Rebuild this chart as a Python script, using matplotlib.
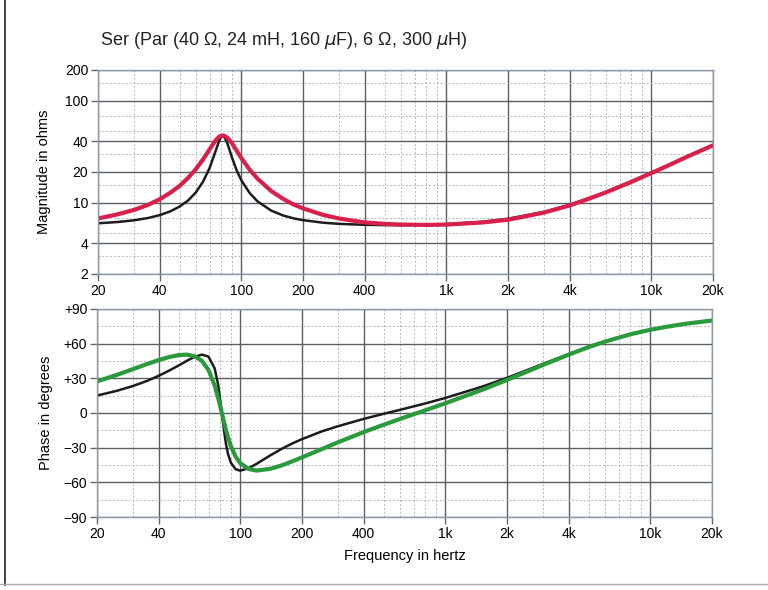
import matplotlib
matplotlib.use("Agg")
import matplotlib.pyplot as plt
from matplotlib.lines import Line2D
from matplotlib.ticker import NullFormatter

# values (frequency in Hz)
freq = [20, 25, 30, 35, 40, 45, 50, 55, 60, 65, 70, 75, 78, 80, 82, 85, 87, 90, 95,
        100, 110, 120, 140, 160, 180, 200, 250, 300, 400, 500, 600, 800, 1000, 1500,
        2000, 3000, 4000, 5000, 6000, 8000, 10000, 12000, 15000, 20000]

# magnitude in ohms
mag_red = [7.0, 7.7, 8.5, 9.5, 10.8, 12.5, 14.6, 17.5, 21.3, 26.5, 33.3, 41.0, 44.3, 45.4,
           45.5, 43.8, 41.8, 38.3, 32.3, 27.4, 21.0, 17.2, 13.0, 10.9, 9.6, 8.8, 7.6, 7.0,
           6.4, 6.2, 6.1, 6.05, 6.1, 6.4, 6.8, 8.0, 9.4, 11.0, 12.6, 16.0, 19.5, 23.0, 28.3, 36.5]
mag_black = [6.28, 6.47, 6.72, 7.07, 7.55, 8.22, 9.16, 10.5, 12.6, 16.0, 21.8, 32.2, 40.6, 44.8,
             45.2, 39.6, 34.4, 27.8, 20.7, 16.6, 12.4, 10.3, 8.36, 7.49, 7.02, 6.74, 6.37, 6.20,
             6.07, 6.03, 6.02, 6.07, 6.16, 6.50, 6.96, 8.13, 9.54, 11.1, 12.7, 16.2, 19.7, 23.0, 28.3, 36.5]

# phase in degrees
ph_green = [27.3, 33.0, 38.0, 42.3, 45.8, 48.4, 50.1, 50.5, 49.0, 45.1, 37.2, 23.8, 13.0, 5.1,
            -2.9, -14.1, -20.6, -28.7, -37.9, -43.4, -48.5, -49.8, -48.3, -45.2, -41.7, -38.4,
            -31.2, -25.3, -16.5, -10.2, -5.2, 2.4, 8.4, 19.8, 28.6, 41.6, 50.5, 57.0, 61.7,
            68.1, 72.0, 74.6, 77.3, 80.0]
ph_black = [15.1, 19.2, 23.4, 27.7, 32.2, 36.7, 41.1, 45.3, 48.7, 50.5, 48.8, 38.6, 24.1, 9.9,
            -6.0, -26.1, -35.0, -43.1, -48.7, -49.9, -47.7, -44.0, -36.7, -30.8, -26.2, -22.6,
            -15.9, -11.4, -5.1, -0.7, 2.7, 8.3, 13.0, 22.6, 30.4, 42.5, 51.0, 57.3, 61.9,
            68.2, 72.0, 74.6, 77.3, 80.0]

x_ticks = [20, 40, 100, 200, 400, 1000, 2000, 4000, 10000, 20000]
x_labels = ["20", "40", "100", "200", "400", "1k", "2k", "4k", "10k", "20k"]
x_minor = [30, 50, 60, 70, 80, 90, 300, 500, 600, 700, 800, 900,
           3000, 5000, 6000, 7000, 8000, 9000]
mag_ticks = [2, 4, 10, 20, 40, 100, 200]
mag_minor = [3, 5, 7, 15, 30, 50, 70, 150]
ph_ticks = [-90, -60, -30, 0, 30, 60, 90]
ph_labels = ["\u221290", "\u221260", "\u221230", "0", "+30", "+60", "+90"]
ph_minor = [-75, -45, -15, 15, 45, 75]

plt.rcParams['font.family'] = ['Liberation Sans', 'DejaVu Sans']

RED = "#d8204c"
GREEN = "#2a9a3c"
BLACK = "#1c1c1c"

fig = plt.figure(figsize=(7.68, 5.9), dpi=100)
ax1 = fig.add_axes([0.1276, 0.5356, 0.8008, 0.3458])
ax2 = fig.add_axes([0.1263, 0.1237, 0.8008, 0.3526])


def style_axes(ax):
    ax.set_xscale("log")
    ax.set_xlim(20, 20000)
    ax.set_xticks(x_ticks, x_labels)
    ax.set_xticks(x_minor, minor=True)
    ax.xaxis.set_minor_formatter(NullFormatter())
    ax.grid(True, which="major", color="#5a5f66", lw=1.0)
    ax.grid(True, which="minor", color="#b8b8b8", lw=0.7, ls=(0, (2, 2)))
    ax.set_axisbelow(True)
    ax.tick_params(which="major", direction="out", length=5, width=1,
                   color="#666666", labelsize=10, pad=2)
    ax.tick_params(which="minor", length=0)
    for s in ax.spines.values():
        s.set_color("#8d9aa6")
        s.set_linewidth(1.0)


# magnitude panel
style_axes(ax1)
ax1.set_yscale("log")
ax1.set_ylim(2, 200)
ax1.set_yticks(mag_ticks, [str(v) for v in mag_ticks])
ax1.set_yticks(mag_minor, minor=True)
ax1.yaxis.set_minor_formatter(NullFormatter())
ax1.plot(freq, mag_black, color=BLACK, lw=1.8)
ax1.plot(freq, mag_red, color=RED, lw=3.0)
ax1.set_ylabel("Magnitude in ohms", fontsize=10.5, labelpad=10)

# phase panel
style_axes(ax2)
ax2.set_ylim(-90, 90)
ax2.set_yticks(ph_ticks, ph_labels)
ax2.set_yticks(ph_minor, minor=True)
ax2.plot(freq, ph_black, color=BLACK, lw=1.8)
ax2.plot(freq, ph_green, color=GREEN, lw=3.0)
ax2.set_ylabel("Phase in degrees", fontsize=10.5, labelpad=8)
ax2.set_xlabel("Frequency in hertz", fontsize=10.5, labelpad=6)

fig.text(0.130, 0.932, "Ser (Par (40 \u03a9, 24 mH, 160 $\\mu$F), 6 \u03a9, 300 $\\mu$H)",
         fontsize=13, ha="left", va="center", color="#222222")

# edges of the scanned page
fig.add_artist(Line2D([0.007, 0.007], [0.008, 1.0], color="#222222", lw=1.2))
fig.add_artist(Line2D([0.0, 1.0], [0.010, 0.010], color="#aaaaaa", lw=1.0))

fig.savefig("out.png", dpi=100)
